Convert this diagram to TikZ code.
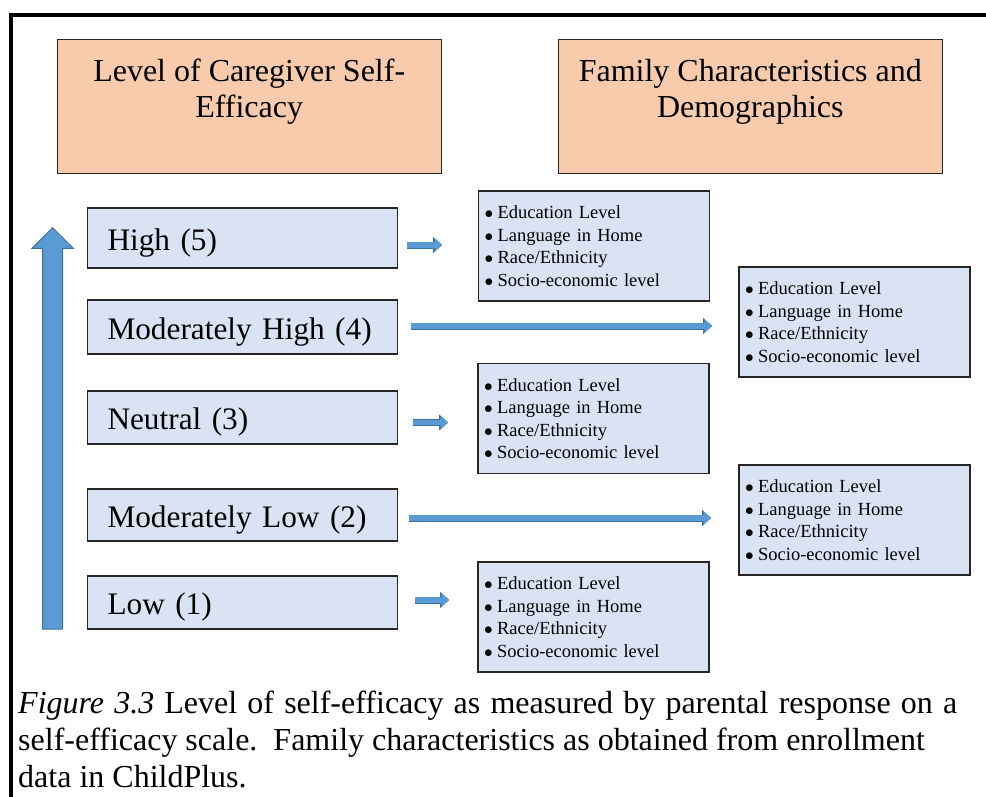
\documentclass[tikz,border=0pt]{standalone}
\usepackage{fontspec}
\setmainfont{Liberation Serif}
\usetikzlibrary{arrows.meta,calc,positioning}

\definecolor{peach}{RGB}{248,203,173}
\definecolor{paleblue}{RGB}{218,227,243}
\definecolor{arrowfill}{RGB}{91,155,213}
\definecolor{arrowedge}{RGB}{65,113,156}
\newcommand\bul{$\bullet$\hspace{4.5pt}}
\newcommand\famlist{\bul Education Level\\\bul Language in Home\\\bul Race/Ethnicity\\%
  \bul Socio-economic level}

\begin{document}
\begin{tikzpicture}[x=1pt, y=-1pt,
  headbox/.style={draw=black!85, line width=1.2pt, fill=peach, minimum width=384pt, minimum height=134pt},
  headtext/.style={align=center, inner sep=0pt, font=\fontsize{32}{36}\selectfont},
  level/.style={draw=black!85, line width=1.3pt, fill=paleblue, text width=270pt, inner xsep=20pt,
    inner ysep=0pt, text height=24pt, text depth=0pt, align=left, font=\fontsize{31.3}{38}\selectfont},
  info/.style={draw=black!85, line width=1.2pt, fill=paleblue, text width=219pt, inner xsep=6pt,
    minimum height=110pt, align=left, font=\fontsize{18.5}{22.5}\selectfont},
  flow/.style={draw=arrowfill, line width=5.2pt, -{Triangle[width=13pt,length=7.5pt]},
    preaction={draw=arrowedge, line width=7pt, -{Triangle[width=15.5pt,length=9pt]}}}]
  \useasboundingbox (0,0) rectangle (986,797);
  \draw[line width=4pt] (10.7,797) -- (10.7,15.3) -- (986,15.3);

  \node[headbox] (selfhead) at (249.2,106.2) {};
  \node[headtext, below=20pt of selfhead.north] (selftitle) {Level of Caregiver Self-\\Efficacy};
  \node[headbox] (famhead) at (750.3,106.2) {};
  \node[headtext, below=20pt of famhead.north] (famtitle) {Family Characteristics and\\Demographics};

  \foreach \nm/\y/\h/\txt in {high/238/60/High (5), modhigh/327/54/Moderately High (4),
      neutral/417.5/53/Neutral (3), modlow/515/52/Moderately Low (2), low/602.5/53/Low (1)}
    \node[level, minimum height=\h] (\nm) at (242.5,\y) {\mbox{\txt}};

  \foreach \nm/\x/\y in {hinfo/594/246, mhinfo/854.5/322, ninfo/593.5/418.5,
      mlinfo/854.5/520, linfo/593.5/617}
    \node[info] (\nm) at (\x,\y) {\famlist};

  \foreach \nm/\dx/\dy/\len in {high/9/7/35, modhigh/13/-1/301, neutral/15/5/35,
      modlow/11/3/302, low/17/-2.5/34}
    \draw[flow] ($(\nm.east)+(\dx,\dy)$) -- ++(\len,0);

  % rising scale
  \draw[draw=arrowedge, fill=arrowfill, line width=1pt] (42.7,629) -- (42.7,248.3) -- (32,248.3)
    -- (52.7,227.7) -- (73.3,248.3) -- (62.7,248.3) -- (62.7,629) -- cycle;

  \node[anchor=north west, align=left, inner sep=0pt, font=\fontsize{32}{37}\selectfont] (figcap)
    at (18,691) {\makebox[939pt][s]{\textit{Figure 3.3} Level of self-efficacy as measured by parental response on a}\\
    self-efficacy scale.\ \ Family characteristics as obtained from enrollment\\
    data in ChildPlus.};
\end{tikzpicture}
\end{document}
